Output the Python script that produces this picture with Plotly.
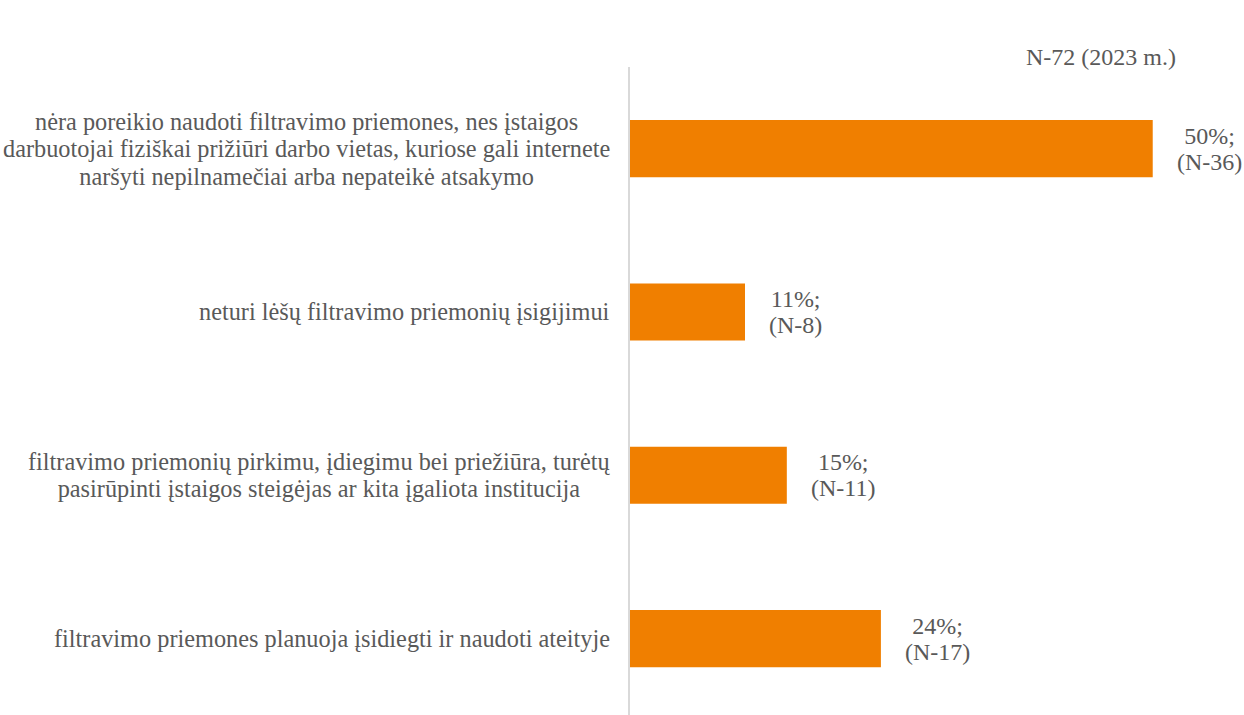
import plotly.graph_objects as go

categories = [
    ["nėra poreikio naudoti filtravimo priemones, nes įstaigos",
     "darbuotojai fiziškai prižiūri darbo vietas, kuriose gali internete",
     "naršyti nepilnamečiai arba nepateikė atsakymo"],
    ["neturi lėšų filtravimo priemonių įsigijimui"],
    ["filtravimo priemonių pirkimu, įdiegimu bei priežiūra, turėtų",
     "pasirūpinti įstaigos steigėjas ar kita įgaliota institucija"],
    ["filtravimo priemones planuoja įsidiegti ir naudoti ateityje"],
]
shares = [0.50, 0.11, 0.15, 0.24]
counts = [36, 8, 11, 17]
note = "N-72 (2023 m.)"

FONT = "Liberation Serif"
TXT = "#595959"
ORANGE = "#F07F00"


def big(lines, px=24.3):
    return "<br>".join(f'<span style="font-size:{px}px">{l}</span>' for l in lines)


ids = list(range(len(categories)))

fig = go.Figure(go.Bar(
    x=shares, y=ids, orientation="h", width=0.35,
    marker=dict(color=ORANGE, line=dict(width=0)),
    hoverinfo="skip",
))

anns = []
for i, (c, s, n) in enumerate(zip(categories, shares, counts)):
    anns.append(dict(x=0, xref="paper", y=i, yref="y", text=big(c), showarrow=False,
                     xanchor="right", yanchor="middle", align="center", xshift=-18,
                     font=dict(family=FONT, size=21, color=TXT)))
    anns.append(dict(x=s, xref="x", y=i, yref="y",
                     text=big([f"{round(s*100)}%;", f"(N-{n})"], 24),
                     showarrow=False, xanchor="left", yanchor="middle", align="center",
                     xshift=22, font=dict(family=FONT, size=20, color=TXT)))
anns.append(dict(x=0.953, xref="paper", y=1.0154, yref="paper", text=note, showarrow=False,
                 xanchor="right", yanchor="middle",
                 font=dict(family=FONT, size=24, color=TXT)))

fig.update_layout(
    width=1244, height=715,
    margin=dict(l=630, r=39, t=67, b=0),
    paper_bgcolor="white", plot_bgcolor="white",
    showlegend=False,
    xaxis=dict(range=[0, 0.55], showgrid=False, zeroline=False, showticklabels=False,
               showline=False, fixedrange=True),
    yaxis=dict(range=[3.468, -0.5], showgrid=False, zeroline=False, showticklabels=False,
               showline=True, linecolor="#D9D9D9", linewidth=1.5, fixedrange=True),
    annotations=anns,
)

fig.write_html("out.html",
               config={"displayModeBar": False},
               post_script="document.body.style.margin='0';document.body.style.overflow='hidden';")
